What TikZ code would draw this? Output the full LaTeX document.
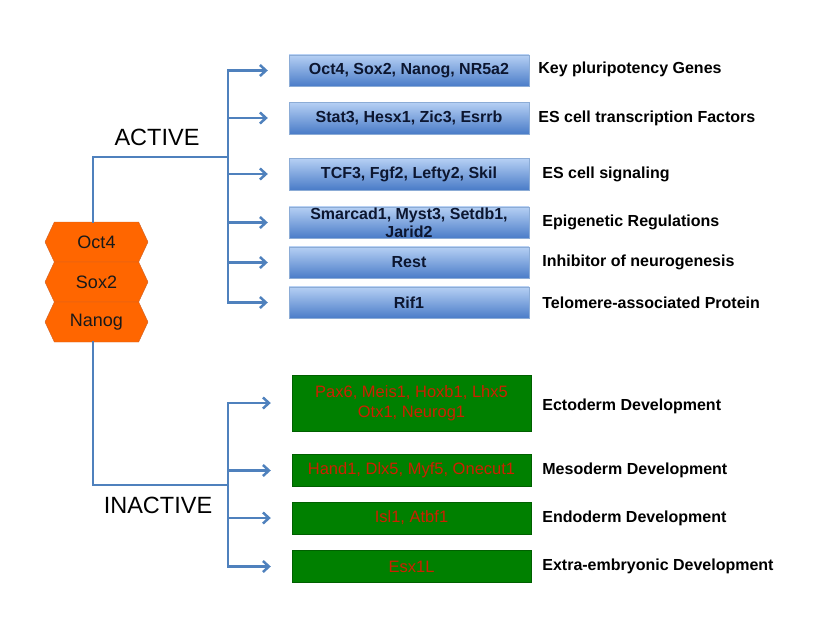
\documentclass[tikz,border=0pt]{standalone}
\usepackage{fontspec}
\setmainfont{Liberation Sans}
\usetikzlibrary{arrows.meta,shapes.symbols}
\definecolor{cLine}{RGB}{79,129,189}
\definecolor{cHex}{RGB}{255,102,0}
\definecolor{cHexB}{RGB}{205,100,45}
\definecolor{cOnTop}{RGB}{182,208,244}
\definecolor{cOnBot}{RGB}{74,124,200}
\definecolor{cOnB}{RGB}{140,172,214}
\definecolor{cOff}{RGB}{0,128,0}
\definecolor{cOffTxt}{RGB}{204,32,0}
\definecolor{cTxt}{RGB}{12,22,48}

\begin{document}
\begin{tikzpicture}[x=1pt, y=-1pt,
  hexa/.style={shape=signal, signal to=east and west, signal pointer angle=130,
    draw=cHexB, fill=cHex, minimum width=103pt, minimum height=40pt,
    inner sep=0pt, font=\fontsize{18}{20}\selectfont, text=black!90},
  on/.style={draw=cOnB, top color=cOnTop, bottom color=cOnBot,
    minimum width=240pt, minimum height=31.5pt, inner sep=0pt, align=center,
    font=\bfseries\fontsize{16}{18}\selectfont, text=cTxt},
  off/.style={draw=cOff!75!black, fill=cOff, minimum width=239pt,
    minimum height=32pt, inner sep=0pt, align=center,
    font=\fontsize{16.5}{20}\selectfont, text=cOffTxt},
  lbl/.style={anchor=west, inner sep=0pt, font=\bfseries\fontsize{16}{18}\selectfont},
  side/.style={font=\fontsize{23.5}{26}\selectfont},
  ln/.style={cLine, line width=2.5pt, line cap=rect},
  arr/.style={ln, -{Straight Barb[length=6pt,width=11pt]}, shorten >=21pt},
]
\useasboundingbox (0,0) rectangle (833,630);

% Core factors
\node[hexa] (oct) at (96.5,242) {Oct4};
\node[hexa] (sox) at (96.5,282) {Sox2};
\node[hexa] (nan) at (96.5,322) {Nanog};

% Active targets
\node[on] (k1) at (409,70.5) {Oct4, Sox2, Nanog, NR5a2};
\node[on] (k2) at (409,118) {Stat3, Hesx1, Zic3, Esrrb};
\node[on] (k3) at (409,174) {TCF3, Fgf2, Lefty2, Skil};
\node[on, inner ysep=-1pt] (k4) at (409,222.5) {Smarcad1, Myst3, Setdb1,\\ Jarid2};
\node[on] (k5) at (409,262.5) {Rest};
\node[on] (k6) at (409,302.5) {Rif1};

\node[lbl] (k1l) at ([xshift=9pt,yshift=1.5pt]k1.east) {Key pluripotency Genes};
\node[lbl] (k2l) at ([xshift=9pt]k2.east) {ES cell transcription Factors};
\node[lbl] (k3l) at ([xshift=13pt]k3.east) {ES cell signaling};
\node[lbl] (k4l) at ([xshift=13pt]k4.east) {Epigenetic Regulations};
\node[lbl] (k5l) at ([xshift=13pt]k5.east) {Inhibitor of neurogenesis};
\node[lbl] (k6l) at ([xshift=13pt]k6.east) {Telomere-associated Protein};

% Inactive targets
\node[off, minimum height=56pt] (g1) at (411.5,403) {Pax6, Meis1, Hoxb1, Lhx5\\ Otx1, Neurog1};
\node[off] (g2) at (411.5,470.5) {Hand1, Dlx5, Myf5, Onecut1};
\node[off] (g3) at (411.5,518) {Isl1, Atbf1};
\node[off] (g4) at (411.5,566.5) {Esx1L};

\node[lbl] (g1l) at ([xshift=11pt,yshift=-3pt]g1.east) {Ectoderm Development};
\node[lbl] (g2l) at ([xshift=11pt]g2.east) {Mesoderm Development};
\node[lbl] (g3l) at ([xshift=11pt]g3.east) {Endoderm Development};
\node[lbl] (g4l) at ([xshift=11pt]g4.east) {Extra-embryonic Development};

\node[side] (act) at (157,137) {ACTIVE};
\node[side] (ina) at (158,505) {INACTIVE};

% Branches
\coordinate (actJ) at (228,157);
\coordinate (inaJ) at (228,485);
\draw[ln] ([xshift=-3.5pt]oct.north) |- (actJ);
\draw[ln] ([xshift=-3.5pt]nan.south) |- (inaJ);
\draw[ln] (k1.west -| actJ) -- (k6.west -| actJ);
\draw[ln] (g1.west -| inaJ) -- (g4.west -| inaJ);
\foreach \k in {k1,k2,k3,k4,k5,k6}
  \draw[arr] (\k.west -| actJ) -- (\k.west);
\foreach \g in {g1,g2,g3,g4}
  \draw[arr] (\g.west -| inaJ) -- (\g.west);

\end{tikzpicture}
\end{document}
